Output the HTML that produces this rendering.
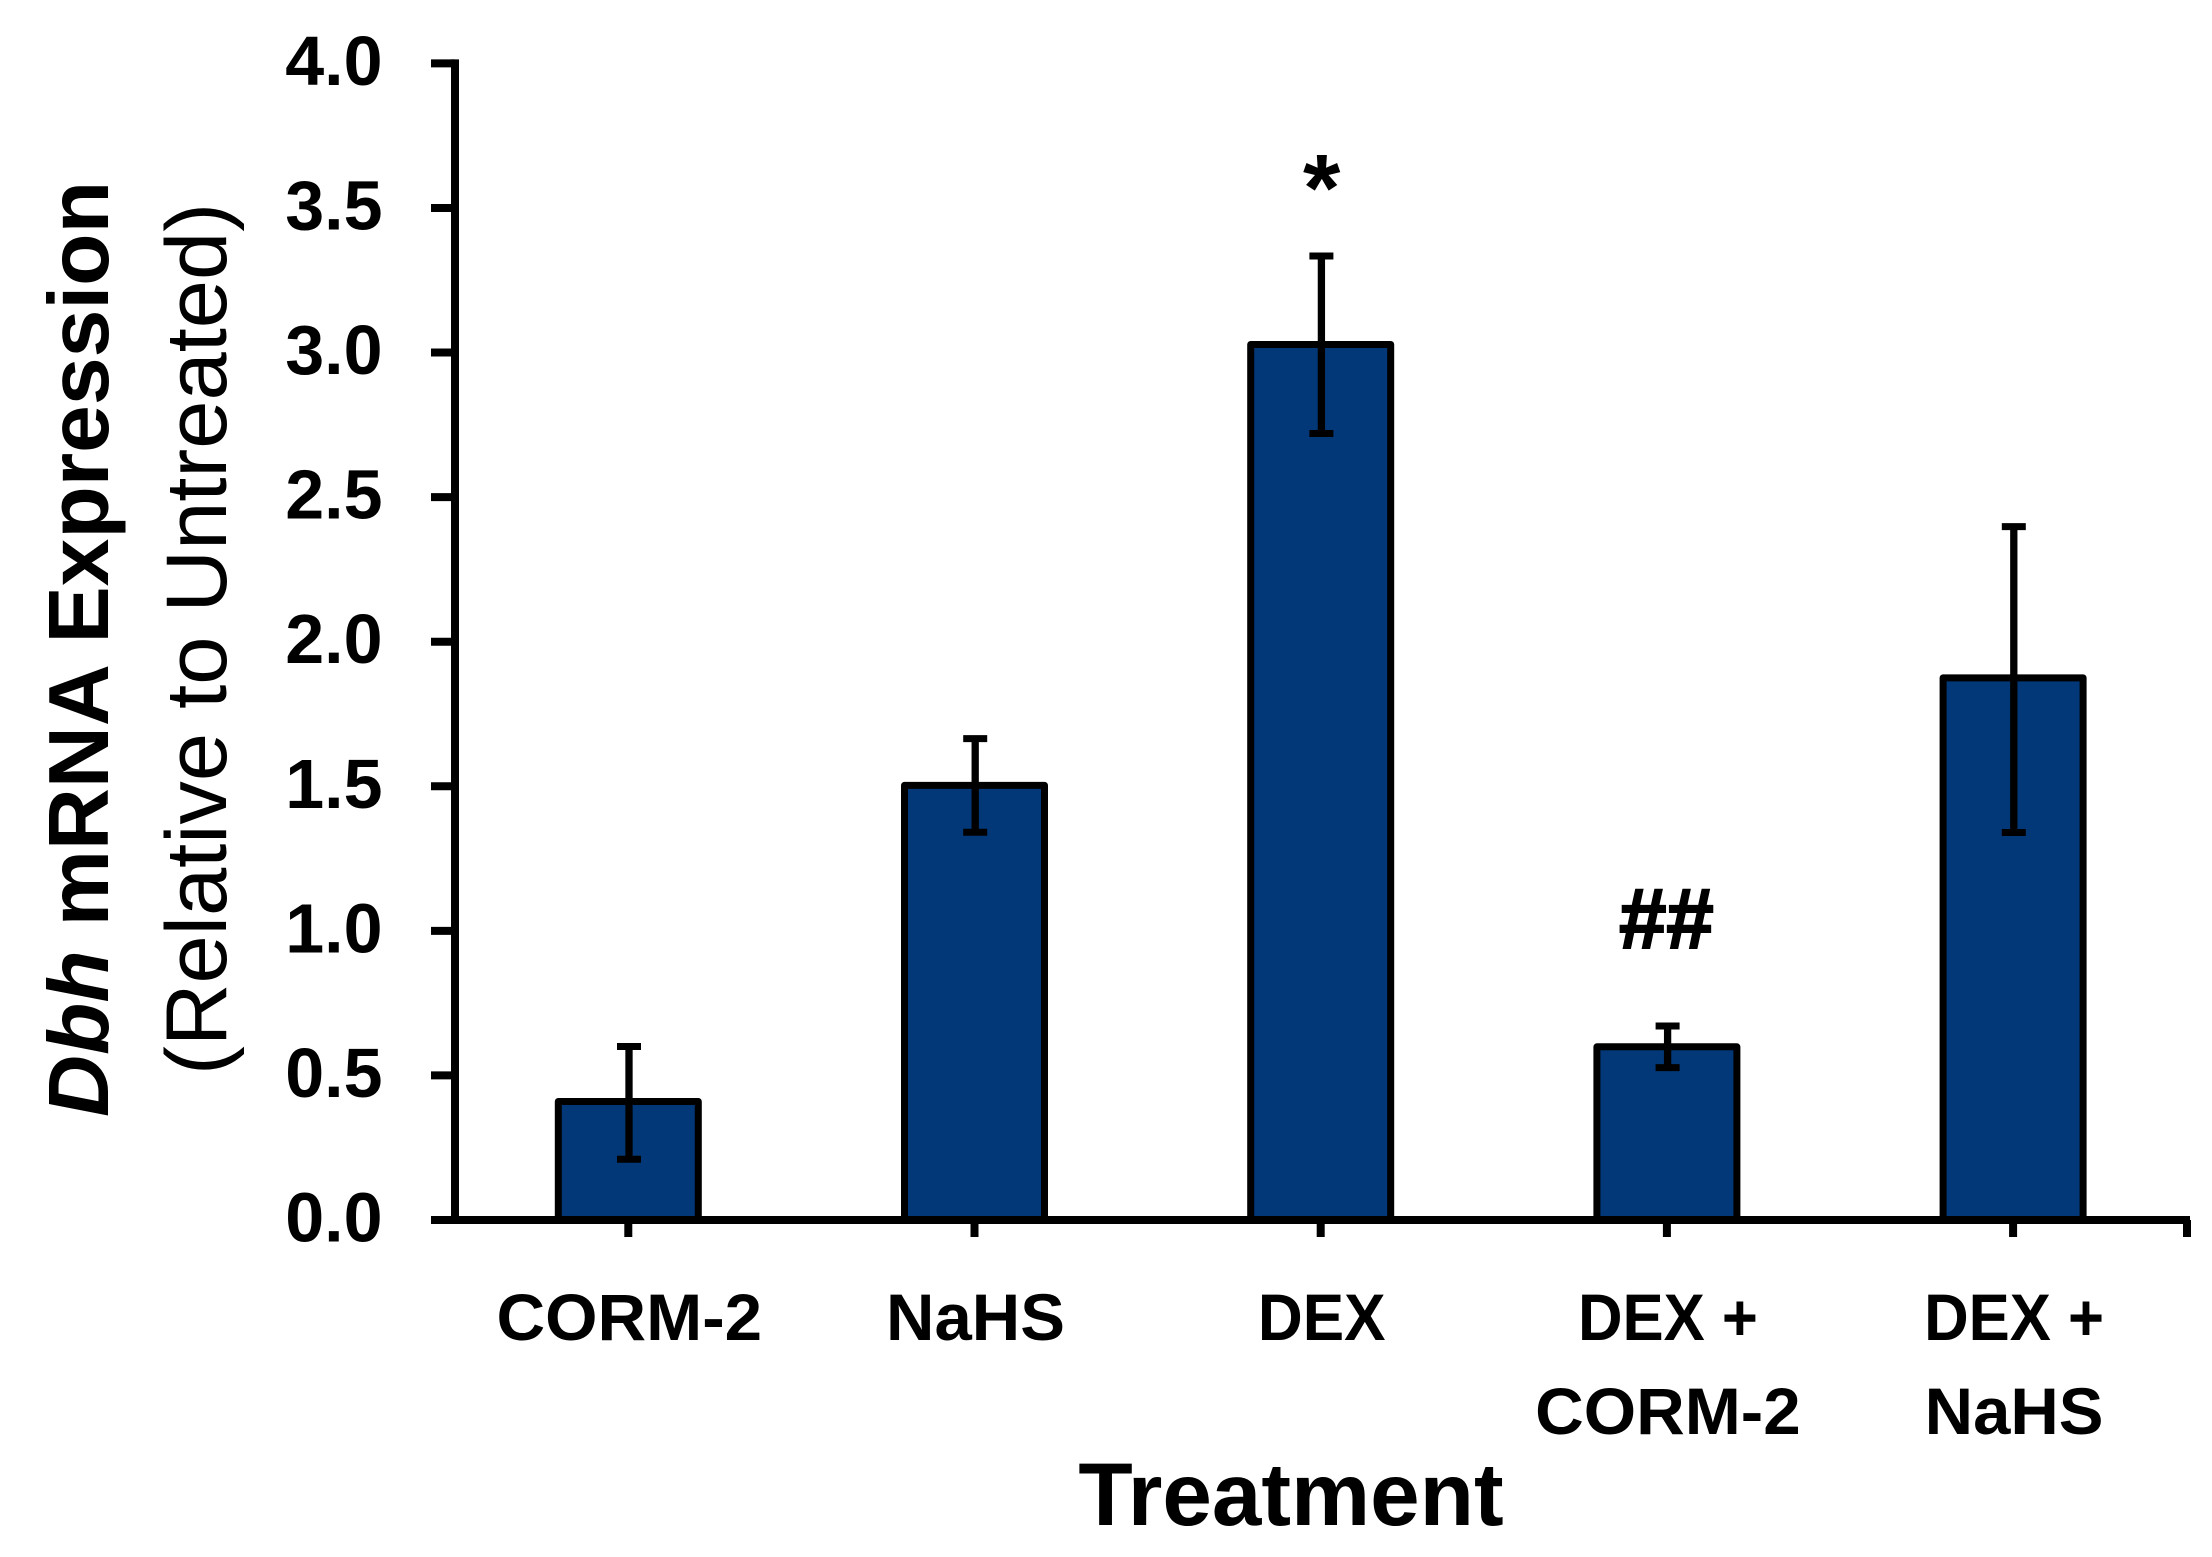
<!DOCTYPE html>
<html lang="en">
<head>
<meta charset="utf-8">
<title>Dbh mRNA Expression by Treatment</title>
<style>
html,body{margin:0;padding:0;background:#fff;}
svg{display:block;}
text{fill:#000;font-family:"Liberation Sans",sans-serif;}
</style>
</head>
<body>
<svg id="chart" xmlns="http://www.w3.org/2000/svg" width="2212" height="1557" viewBox="0 0 2212 1557">
  <rect x="0" y="0" width="2212" height="1557" fill="#ffffff"/>
  <g id="bars"></g>
  <g id="errors"></g>
  <g id="axes"></g>
  <g id="labels"></g>
  <text transform="translate(108,1117) rotate(-90)" font-size="85.8" font-weight="700"><tspan font-style="italic">Dbh</tspan> mRNA Expression</text>
  <text transform="translate(226,1075) rotate(-90)" font-size="86.7">(Relative to Untreated)</text>
  <text x="1291" y="1525" text-anchor="middle" font-size="89" font-weight="700">Treatment</text>
</svg>
<script>
const categories = [["CORM-2"], ["NaHS"], ["DEX"], ["DEX +", "CORM-2"], ["DEX +", "NaHS"]];
const values = [0.41, 1.503, 3.028, 0.599, 1.875];
const errUpper = [0.60, 1.665, 3.334, 0.671, 2.398];
const errLower = [0.21, 1.341, 2.72, 0.527, 1.34];
const significance = ["", "", "*", "##", ""];
const yTicks = [0, 0.5, 1, 1.5, 2, 2.5, 3, 3.5, 4];

const NS = "http://www.w3.org/2000/svg";
const xLeft = 455, xRight = 2190, yZero = 1220, yTop = 63.4, yMax = 4;
const step = 346.2, firstCenter = 628.3;
const labelStretch = {"CORM-2": 1.02, "NaHS": 1.016, "DEX": 0.94, "DEX +": 0.934};
const sx = i => firstCenter + step * i;
const sy = v => yZero - (v / yMax) * (yZero - yTop);
const el = (parent, tag) => {
  const n = document.createElementNS(NS, tag);
  parent.appendChild(n);
  return n;
};
const setAll = (n, pairs) => { for (const k in pairs) n.setAttribute(k, pairs[k]); };
const barsG = document.getElementById("bars");
const errG = document.getElementById("errors");
const axesG = document.getElementById("axes");
const labelsG = document.getElementById("labels");

values.forEach((v, i) => {
  const r = el(barsG, "rect");
  
  
  setAll(r, {x: sx(i) - 70, y: sy(v), width: 140, height: yZero - sy(v), fill: "#023877", stroke: "#000", "stroke-width": 7, "stroke-linejoin": "round"});
});

errUpper.forEach((u, i) => {
  const cx = sx(i) + 0.7;
  const l = errLower[i];
  const stem = el(errG, "line");
  
  
  setAll(stem, {x1: cx, x2: cx, y1: sy(u), y2: sy(l), stroke: "#000", "stroke-width": 7.3});
  const capTop = el(errG, "line");
  
  
  setAll(capTop, {x1: cx - 12, x2: cx + 12, y1: sy(u), y2: sy(u), stroke: "#000", "stroke-width": 7});
  const capBot = el(errG, "line");
  
  
  setAll(capBot, {x1: cx - 12, x2: cx + 12, y1: sy(l), y2: sy(l), stroke: "#000", "stroke-width": 7});
});

const yAxis = el(axesG, "line");


setAll(yAxis, {x1: xLeft, x2: xLeft, y1: yTop - 4, y2: yZero + 4, stroke: "#000", "stroke-width": 8});
const xAxis = el(axesG, "line");


setAll(xAxis, {x1: xLeft, x2: xRight, y1: yZero, y2: yZero, stroke: "#000", "stroke-width": 8});

yTicks.forEach(t => {
  const y = sy(t);
  const tick = el(axesG, "line");
  
  
  setAll(tick, {x1: 431, x2: xLeft, y1: y, y2: y, stroke: "#000", "stroke-width": 8});
  const lab = el(labelsG, "text");
  
  
  setAll(lab, {x: 382.5, y: y + 21.5, "text-anchor": "end", "font-size": 70, "font-weight": 700});
  lab.textContent = t.toFixed(1);
});

categories.forEach((lines, i) => {
  const x = sx(i);
  const tick = el(axesG, "line");
  
  
  setAll(tick, {x1: x, x2: x, y1: yZero, y2: 1237, stroke: "#000", "stroke-width": 8});
  lines.forEach((line, j) => {
    const lab = el(labelsG, "text");
    
    
    setAll(lab, {x: x + 1, y: 1340 + j * 94, "text-anchor": "middle", "font-size": 66, "font-weight": 700});
    lab.textContent = line;
    const natural = lab.getComputedTextLength();
    setAll(lab, {textLength: natural * (labelStretch[line] || 1), lengthAdjust: "spacingAndGlyphs"});
  });
});

const endTick = el(axesG, "line");


setAll(endTick, {x1: xRight - 3, x2: xRight - 3, y1: yZero, y2: 1237, stroke: "#000", "stroke-width": 8});

significance.forEach((s, i) => {
  if (!s) return;
  const mark = el(labelsG, "text");
  
  
  const isStar = s === "*";
  setAll(mark, {x: isStar ? sx(i) + 1 : sx(i) - 0.5, y: isStar ? 221 : 948, "text-anchor": "middle", "font-size": isStar ? 96 : 85, "font-weight": 700, stroke: "#000", "stroke-width": isStar ? 0 : 2});
  mark.textContent = s;
});
</script>
</body>
</html>
